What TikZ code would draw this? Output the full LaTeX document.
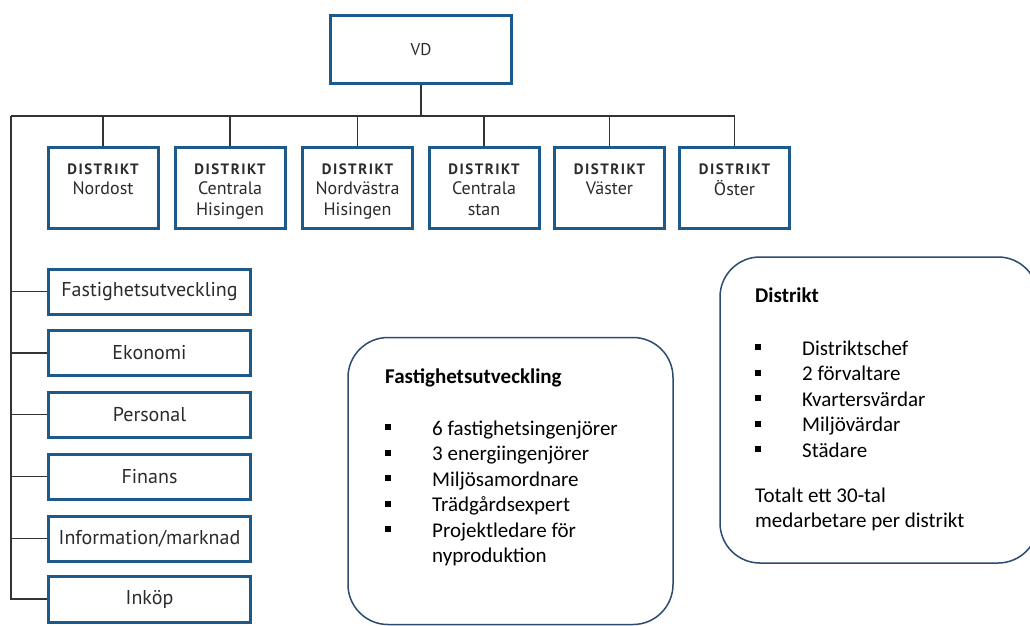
\documentclass[tikz,border=0pt]{standalone}
\usepackage{fontspec}
\setmainfont{Carlito}
\newfontfamily\orgfont{PT Sans}
\newfontfamily\orgcaps[LetterSpace=10]{PT Sans}
\definecolor{boxblue}{HTML}{1D5A8C}
\definecolor{linegray}{HTML}{333333}
\definecolor{orgtext}{HTML}{2B2B2B}
\definecolor{framecol}{HTML}{2E4A6E}
\newcommand\bul{\makebox[47pt][l]{\raisebox{5pt}{\rule{6pt}{6pt}}}}
\newcommand\dhead{{\orgcaps\bfseries\fontsize{15}{20.5}\selectfont DISTRIKT}}
\tikzset{
  orgbox/.style={draw=boxblue, line width=3pt, fill=white, inner sep=0pt},
  distbox/.style={orgbox, minimum width=110pt, minimum height=81pt},
  sidebox/.style={orgbox, minimum width=202pt, minimum height=45pt,
    font=\orgfont\fontsize{20}{22}\selectfont, text=orgtext},
  disttext/.style={anchor=base, inner sep=0pt, text=orgtext,
    font=\orgfont\fontsize{18}{20.5}\selectfont},
  conn/.style={draw=linegray, line width=1.3pt},
  frame/.style={draw=framecol, line width=1.5pt, rounded corners=40pt, inner sep=0pt},
  infotext/.style={anchor=base west, inner sep=0pt, text=black,
    font=\fontsize{21}{25.5}\selectfont}
}
\begin{document}
\begin{tikzpicture}[x=1pt,y=-1pt]
\useasboundingbox (0,0) rectangle (1030,625);
\fill[white] (0,0) rectangle (1030,625);

% VD
\node[orgbox, minimum width=181pt, minimum height=68pt,
  font=\orgfont\fontsize{17}{20}\selectfont, text=orgtext] (vd) at (421,49.5) {VD};

% bus
\coordinate (bus) at (0,116);
\coordinate (corner) at (11,116);

% district boxes
\node[distbox] (d1) at (103,188) {};
\node[distbox] (d2) at (230,188) {};
\node[distbox] (d3) at (357.5,188) {};
\node[distbox] (d4) at (484,188) {};
\node[distbox] (d5) at (609.5,188) {};
\node[distbox] (d6) at (734.5,188) {};

\node[disttext] (t1) at (103,174) {\begin{tabular}[t]{@{}c@{}}\dhead\\Nordost\end{tabular}};
\node[disttext] (t2) at (230,174) {\begin{tabular}[t]{@{}c@{}}\dhead\\Centrala\\Hisingen\end{tabular}};
\node[disttext] (t3) at (357.5,174) {\begin{tabular}[t]{@{}c@{}}\dhead\\Nordvästra\\Hisingen\end{tabular}};
\node[disttext] (t4) at (484,174) {\begin{tabular}[t]{@{}c@{}}\dhead\\Centrala\\stan\end{tabular}};
\node[disttext] (t5) at (609.5,174) {\begin{tabular}[t]{@{}c@{}}\dhead\\Väster\end{tabular}};
\node[disttext] (t6) at (734.5,174) {\begin{tabular}[t]{@{}c@{}}\dhead\\Öster\end{tabular}};

% side boxes
\node[sidebox] (s1) at (149.5,291.5) {Fastighetsutveckling};
\node[sidebox] (s2) at (149.5,353) {Ekonomi};
\node[sidebox] (s3) at (149.5,414.5) {Personal};
\node[sidebox] (s4) at (149.5,476.5) {Finans};
\node[sidebox] (s5) at (149.5,538.5) {Information/marknad};
\node[sidebox, minimum height=46pt] (s6) at (149.5,599) {Inköp};

% connectors
\draw[conn] (vd.south) -- (vd.south |- bus);
\draw[conn] (corner) -- (d6.north |- bus) -- (d6.north);
\foreach \d in {d1,d2,d3,d4,d5} \draw[conn] (\d.north |- bus) -- (\d.north);
\draw[conn] (corner) -- (corner |- s6.west) -- (s6.west);
\foreach \s in {s1,s2,s3,s4,s5} \draw[conn] (corner |- \s.west) -- (\s.west);

% info frame: Fastighetsutveckling
\node[frame, minimum width=325pt, minimum height=287pt] (fframe) at (510.5,481) {};
\node[infotext, font=\fontsize{21}{25.5}\selectfont\bfseries] (ftitle) at (385,383) {Fastighetsutveckling};
\node[infotext] (flist) at (385,435) {\begin{tabular}[t]{@{}l@{}}
\bul 6 fastighetsingenjörer\\
\bul 3 energiingenjörer\\
\bul Miljösamordnare\\
\bul Trädgårdsexpert\\
\bul Projektledare för\\
\hspace*{47pt}nyproduktion
\end{tabular}};

% info frame: Distrikt
\node[frame, minimum width=318pt, minimum height=306pt] (dframe) at (879,410) {};
\node[infotext, font=\fontsize{21}{25.5}\selectfont\bfseries] (dtitle) at (755,302) {Distrikt};
\node[infotext] (dlist) at (755,355) {\begin{tabular}[t]{@{}l@{}}
\bul Distriktschef\\
\bul 2 förvaltare\\
\bul Kvartersvärdar\\
\bul Miljövärdar\\
\bul Städare
\end{tabular}};
\node[infotext] (dtotal) at (755,502) {\begin{tabular}[t]{@{}l@{}}
Totalt ett 30-tal\\
medarbetare per distrikt
\end{tabular}};
\end{tikzpicture}
\end{document}
